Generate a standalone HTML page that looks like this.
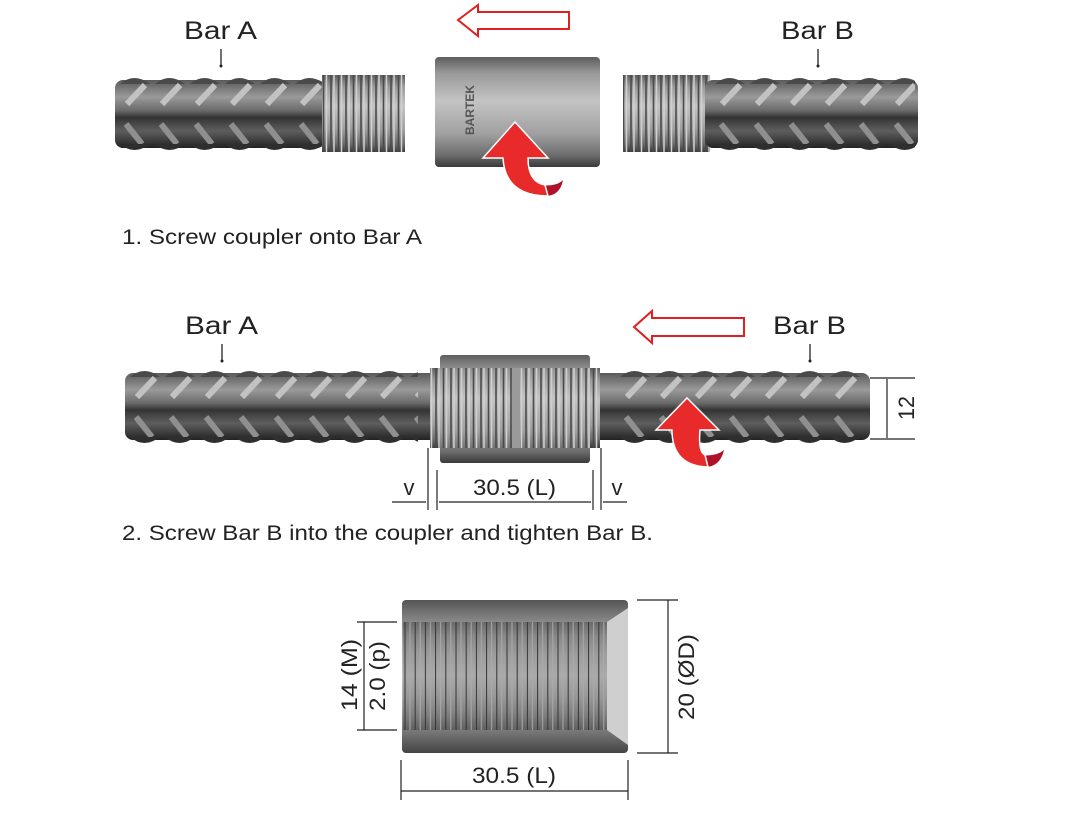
<!DOCTYPE html>
<html><head><meta charset="utf-8"><style>
body{margin:0;background:#fff}
svg{display:block}
text{font-family:"Liberation Sans",sans-serif;fill:#222}
</style></head><body>
<svg width="1079" height="828" viewBox="0 0 1079 828" xmlns="http://www.w3.org/2000/svg">
<defs>
<linearGradient id="bar" x1="0" y1="0" x2="0" y2="1">
<stop offset="0" stop-color="#5a5a5a"/><stop offset="0.25" stop-color="#9a9a9a"/><stop offset="0.45" stop-color="#6a6a6a"/><stop offset="0.55" stop-color="#343434"/><stop offset="0.75" stop-color="#5e5e5e"/><stop offset="1" stop-color="#222"/>
</linearGradient>
<linearGradient id="coup" x1="0" y1="0" x2="0" y2="1">
<stop offset="0" stop-color="#5e5e5e"/><stop offset="0.15" stop-color="#9a9a9a"/><stop offset="0.4" stop-color="#c4c4c4"/><stop offset="0.7" stop-color="#a0a0a0"/><stop offset="0.9" stop-color="#6a6a6a"/><stop offset="1" stop-color="#3a3a3a"/>
</linearGradient>
<linearGradient id="coup3" x1="0" y1="0" x2="0" y2="1">
<stop offset="0" stop-color="#555"/><stop offset="0.14" stop-color="#888"/><stop offset="0.3" stop-color="#a8a8a8"/><stop offset="0.5" stop-color="#c0c0c0"/><stop offset="0.7" stop-color="#a0a0a0"/><stop offset="0.86" stop-color="#777"/><stop offset="1" stop-color="#444"/>
</linearGradient>
<pattern id="rib1" patternUnits="userSpaceOnUse" x="118" y="72" width="35" height="84">
<path d="M2,12 Q16,0 32,12 Z" fill="#4a4a4a"/>
<line x1="9" y1="32" x2="27" y2="13" stroke="#c2c2c2" stroke-width="6"/>
<line x1="8" y1="52" x2="24" y2="72" stroke="#8f8f8f" stroke-width="6"/>
<path d="M2,72 Q16,84 32,72 Z" fill="#2e2e2e"/>
</pattern>
<pattern id="rib2" patternUnits="userSpaceOnUse" x="128" y="365" width="35" height="84">
<path d="M2,12 Q16,0 32,12 Z" fill="#4a4a4a"/>
<line x1="9" y1="32" x2="27" y2="13" stroke="#c2c2c2" stroke-width="6"/>
<line x1="8" y1="52" x2="24" y2="72" stroke="#8f8f8f" stroke-width="6"/>
<path d="M2,72 Q16,84 32,72 Z" fill="#2e2e2e"/>
</pattern>
<pattern id="thr" patternUnits="userSpaceOnUse" x="0" y="0" width="7.5" height="10">
<line x1="1" y1="0" x2="1" y2="10" stroke="#4a4a4a" stroke-width="1.6"/>
<line x1="4" y1="0" x2="4" y2="10" stroke="#d0d0d0" stroke-width="1.5"/>
</pattern>
<pattern id="thr3" patternUnits="userSpaceOnUse" x="404" y="0" width="10.2" height="10">
<line x1="1" y1="0" x2="1" y2="10" stroke="#333" stroke-width="1"/>
<line x1="6" y1="0" x2="6" y2="10" stroke="#aaa" stroke-width="1"/>
</pattern>
</defs>

<!-- ROW 1 -->
<text x="184" y="39" font-size="25" textLength="73" lengthAdjust="spacingAndGlyphs">Bar A</text>
<line x1="221" y1="49" x2="221" y2="66" stroke="#222" stroke-width="1.3"/>
<circle cx="221" cy="66" r="1.5" fill="#222"/>
<rect x="115" y="80" width="210" height="68" rx="8" fill="url(#bar)"/>
<rect x="118" y="72" width="205" height="84" fill="url(#rib1)"/>
<rect x="322" y="75" width="83" height="77" fill="url(#coup)"/>
<rect x="322" y="75" width="83" height="77" fill="url(#thr)"/>

<text x="781" y="39" font-size="25" textLength="73" lengthAdjust="spacingAndGlyphs">Bar B</text>
<line x1="818" y1="49" x2="818" y2="66" stroke="#222" stroke-width="1.3"/>
<circle cx="818" cy="66" r="1.5" fill="#222"/>
<rect x="623" y="75" width="87" height="77" fill="url(#coup)"/>
<rect x="623" y="75" width="87" height="77" fill="url(#thr)"/>
<rect x="705" y="80" width="213" height="68" rx="8" fill="url(#bar)"/>
<rect x="710" y="72" width="205" height="84" fill="url(#rib1)"/>

<rect x="435" y="57" width="165" height="110" rx="4" fill="url(#coup)"/>
<text x="0" y="0" font-size="12" font-weight="bold" style="fill:#555" transform="translate(474,135) rotate(-90)">BARTEK</text>
<polygon points="458,20 478,5 478,12 569,12 569,29 478,29 478,36" fill="#fff" stroke="#e02020" stroke-width="2"/>
<path d="M540,185 Q556,187 563,180 Q560,196 545,196 Z" fill="#b0102a"/>
<path d="M548,196 Q505,196 503,158 L483,158 L515,122 L548,158 L528,158 Q528,182 545,185 Z" fill="#e82a2a" stroke="#fff" stroke-width="1.5"/>

<text x="122" y="244" font-size="21" textLength="300" lengthAdjust="spacingAndGlyphs">1. Screw coupler onto Bar A</text>

<!-- ROW 2 -->
<text x="185" y="334" font-size="25" textLength="73" lengthAdjust="spacingAndGlyphs">Bar A</text>
<line x1="222" y1="344" x2="222" y2="361" stroke="#222" stroke-width="1.3"/>
<circle cx="222" cy="361" r="1.5" fill="#222"/>
<text x="773" y="334" font-size="25" textLength="73" lengthAdjust="spacingAndGlyphs">Bar B</text>
<line x1="810" y1="344" x2="810" y2="361" stroke="#222" stroke-width="1.3"/>
<circle cx="810" cy="361" r="1.5" fill="#222"/>
<rect x="125" y="373" width="745" height="67" rx="8" fill="url(#bar)"/>
<rect x="128" y="365" width="290" height="84" fill="url(#rib2)"/>
<rect x="615" y="365" width="250" height="84" fill="url(#rib2)"/>
<rect x="430" y="368" width="170" height="80" fill="url(#coup)"/>
<rect x="440" y="355" width="150" height="108" rx="3" fill="url(#coup)"/>
<rect x="430" y="368" width="170" height="80" fill="url(#thr)"/>
<rect x="512" y="368" width="8" height="80" fill="#9a9a9a"/>
<polygon points="634,327 652,311 652,318 744,318 744,336 652,336 652,343" fill="#fff" stroke="#e02020" stroke-width="2"/>
<path d="M700,455 Q716,457 724,450 Q720,467 705,467 Z" fill="#b0102a"/>
<path d="M708,467 Q672,466 672,430 L656,430 L687,398 L719,430 L700,430 Q698,452 705,455 Z" fill="#e82a2a" stroke="#fff" stroke-width="1.5"/>

<g stroke="#222" stroke-width="1.2" fill="none">
<line x1="870" y1="378" x2="915" y2="378"/><line x1="870" y1="439" x2="915" y2="439"/>
<line x1="887" y1="379" x2="887" y2="438"/>
<line x1="428" y1="448" x2="428" y2="510"/><line x1="437" y1="470" x2="437" y2="510"/>
<line x1="593" y1="470" x2="593" y2="510"/><line x1="601" y1="448" x2="601" y2="510"/>
<line x1="392" y1="502" x2="426" y2="502"/><line x1="439" y1="502" x2="591" y2="502"/><line x1="603" y1="502" x2="627" y2="502"/>
</g>
<text font-size="22" transform="translate(914,420) rotate(-90)" textLength="24" lengthAdjust="spacingAndGlyphs">12</text>
<text x="409" y="495" font-size="22" text-anchor="middle">v</text>
<text x="473" y="495" font-size="22" textLength="83" lengthAdjust="spacingAndGlyphs">30.5 (L)</text>
<text x="617" y="495" font-size="22" text-anchor="middle">v</text>
<text x="122" y="540" font-size="21" textLength="531" lengthAdjust="spacingAndGlyphs">2. Screw Bar B into the coupler and tighten Bar B.</text>

<!-- ROW 3 -->
<rect x="402" y="600" width="226" height="153" rx="4" fill="url(#coup3)"/>
<polygon points="607,622 628,608 628,745 607,730" fill="#cfcfcf"/>
<rect x="403" y="622" width="204" height="108" fill="#8a8a8a"/>
<rect x="403" y="622" width="204" height="108" fill="url(#coup3)" opacity="0.6"/>
<rect x="403" y="622" width="204" height="108" fill="url(#thr3)"/>
<g stroke="#222" stroke-width="1.2" fill="none">
<line x1="357" y1="622" x2="397" y2="622"/><line x1="357" y1="730" x2="397" y2="730"/>
<line x1="364" y1="622" x2="364" y2="730"/>
<line x1="637" y1="600" x2="678" y2="600"/><line x1="637" y1="753" x2="678" y2="753"/>
<line x1="668" y1="600" x2="668" y2="753"/>
<line x1="401" y1="760" x2="401" y2="800"/><line x1="628" y1="760" x2="628" y2="800"/>
<line x1="401" y1="791" x2="628" y2="791"/>
</g>
<text font-size="22" transform="translate(357,711) rotate(-90)" textLength="72" lengthAdjust="spacingAndGlyphs">14 (M)</text>
<text font-size="22" transform="translate(385,711) rotate(-90)" textLength="70" lengthAdjust="spacingAndGlyphs">2.0 (p)</text>
<text font-size="22" transform="translate(694,720) rotate(-90)" textLength="86" lengthAdjust="spacingAndGlyphs">20 (ØD)</text>
<text x="472" y="783" font-size="22" textLength="84" lengthAdjust="spacingAndGlyphs">30.5 (L)</text>
</svg>
</body></html>
